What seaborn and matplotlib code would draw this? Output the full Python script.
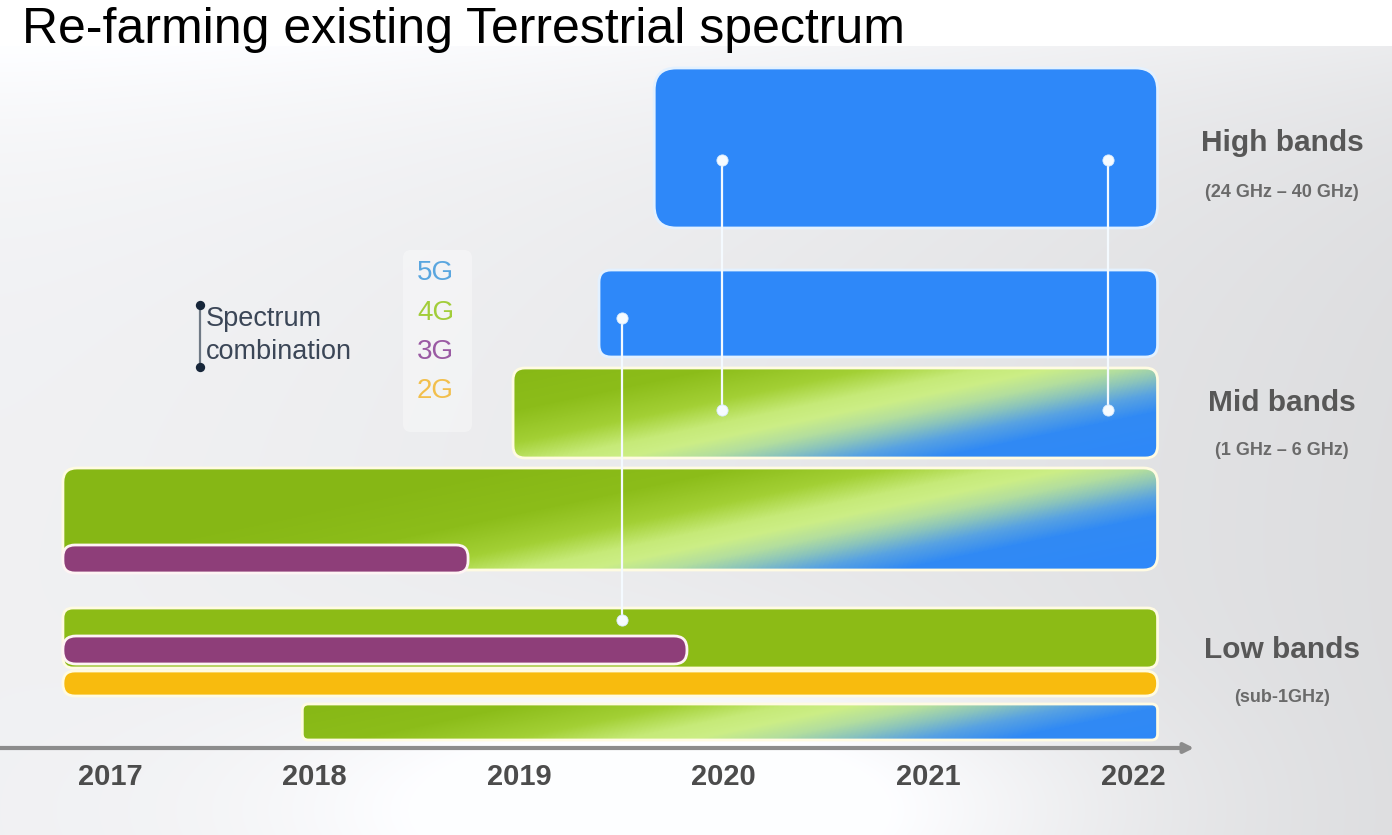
import numpy as np
import matplotlib
matplotlib.use("Agg")
import matplotlib.pyplot as plt
import seaborn as sns
from matplotlib.patches import FancyBboxPatch
from matplotlib.colors import LinearSegmentedColormap

# ---------------- data ----------------
years = [2017, 2018, 2019, 2020, 2021, 2022]
band_names = ["High bands", "Mid bands", "Low bands"]
band_ranges = ["(24 GHz – 40 GHz)", "(1 GHz – 6 GHz)", "(sub-1GHz)"]
legend_gens = ["5G", "4G", "3G", "2G"]

# one entry per spectrum bar: band, technology, start and end of use (years)
bar_band = ["High", "Mid", "Mid", "Mid", "Mid", "Low", "Low", "Low", "Low"]
bar_tech = ["5G", "5G", "4G-5G", "4G-5G", "3G", "4G", "3G", "2G", "4G-5G"]
bar_start = [2019.66, 2019.39, 2018.97, 2016.77, 2016.77, 2016.77, 2016.77, 2016.77, 2017.94]
bar_end = [2022.12, 2022.12, 2022.12, 2022.12, 2018.75, 2022.12, 2019.82, 2022.12, 2022.12]

# spectrum combinations (vertical links) and the year at which they appear
link_year = [2019.50, 2019.99, 2021.88]

# ---------------- layout (pixel rows of the drawing area) ----------------
W, H = 1392, 835
AXIS_ROW = 748                       # timeline row
PX_PER_YEAR = 204.6
X0_YEAR = 2017 - 110 / PX_PER_YEAR   # year at the left figure edge

lane_top = [68, 270, 368, 468, 545, 608, 636, 671, 704]
lane_height = [160, 87, 90, 102, 28, 60, 28, 25, 36]
lane_radius = [22, 12, 12, 14, 12, 10, 13, 12, 6]
link_rows = [(318, 620), (160, 410), (160, 410)]
band_label_rows = [(143, 192), (403, 450), (650, 698)]

# ---------------- styles ----------------
tech_color = {"5G": "#2e88f9", "4G": "#8cbb16", "3G": "#8e3e79", "2G": "#f8bb0e"}
edge_color = {"5G": "#e3f1ff", "4G": "#fffbe2", "3G": "#fff4f4", "2G": "#fffbe2",
              "4G-5G": "#fffbe2"}
gen_colors = ["#5aa6df", "#a2cd3a", "#9a5aa3", "#f2bf4c"]
# centre of the light diagonal streak for gradient bars (pixel column at mid height)
streak_center = {2: 815, 3: 805, 8: 752}
streak_slope = 4.8

grad_cmap = LinearSegmentedColormap.from_list(
    "refarm",
    [(0.00, "#86b715"), (0.22, "#8cbd1a"), (0.36, "#a3d035"), (0.46, "#c6ea78"),
     (0.52, "#ccee86"), (0.59, "#b3de9e"), (0.65, "#8cc5bb"), (0.72, "#58a2e2"),
     (0.80, "#318af4"), (1.00, "#2e88f9")])

sns.set_theme(style="white")
plt.rcParams["font.family"] = ["Liberation Sans", "DejaVu Sans"]

fig = plt.figure(figsize=(W / 100, H / 100), dpi=100)

# ---------------- soft grey backdrop ----------------
bg = fig.add_axes([0, 0, 1, 1], zorder=-5)
yy, xx = np.mgrid[0:H, 0:W].astype(float)
val = 0.945 - 0.075 * (xx / W) ** 1.4
val += 0.12 * np.exp(-((xx - 700) / 380) ** 2 - ((yy - 810) / 130) ** 2)
val += 0.055 * np.exp(-(yy - 50) / 110)
val = np.clip(val, 0, 1)
rgb = np.dstack([val - 0.004, val - 0.002, val + 0.006]).clip(0, 1)
rgb[:46] = 1.0
bg.imshow(rgb, aspect="auto", interpolation="bilinear")
bg.set_axis_off()

# ---------------- main drawing area ----------------
ax = fig.add_axes([0, (H - AXIS_ROW) / H, 1, AXIS_ROW / H])
ax.patch.set_alpha(0)
xlim = (X0_YEAR, X0_YEAR + W / PX_PER_YEAR)


def yr_to_px(v):
    return (v - X0_YEAR) * PX_PER_YEAR


for i, (tech, x0, x1) in enumerate(zip(bar_tech, bar_start, bar_end)):
    top, h, r = lane_top[i], lane_height[i], lane_radius[i]
    z = 2 + i * 0.1
    face = "none" if tech == "4G-5G" else tech_color[tech]
    patch = FancyBboxPatch((x0, top), x1 - x0, h,
                           boxstyle=f"round,pad=0,rounding_size={r / PX_PER_YEAR}",
                           mutation_aspect=PX_PER_YEAR,
                           facecolor=face, edgecolor=edge_color[tech],
                           linewidth=2.0, zorder=z + 0.05)
    ax.add_patch(patch)
    if tech == "4G-5G":
        left_px, right_px = yr_to_px(x0), yr_to_px(x1)
        xp = np.arange(int(left_px), int(right_px)) + 0.5
        yp = np.arange(top, top + h) + 0.5
        d = xp[None, :] + streak_slope * (yp[:, None] - (top + h / 2)) - streak_center[i]
        img = grad_cmap(np.clip((d + 560) / 1120, 0, 1))[..., :3]
        im = ax.imshow(img, extent=(x0, x1, top + h, top), aspect="auto",
                       interpolation="bilinear", zorder=z)
        im.set_clip_path(patch)

# spectrum-combination links
for yr, (ya, yb) in zip(link_year, link_rows):
    ax.plot([yr, yr], [ya, yb], color="#f4faff", lw=1.6, zorder=5,
            solid_capstyle="butt")
link_x = [yr for yr in link_year for _ in range(2)]
link_y = [r for rows in link_rows for r in rows]
sns.scatterplot(x=link_x, y=link_y, ax=ax, s=65, color="#f6fbff",
                edgecolor="#d7ebff", linewidth=0.6, zorder=6, legend=False)

# legend: spectrum combination marker
leg_x = X0_YEAR + 200 / PX_PER_YEAR
ax.plot([leg_x, leg_x], [305, 367], color="#707a86", lw=1.6, zorder=5)
sns.scatterplot(x=[leg_x, leg_x], y=[305, 367], ax=ax, s=45, color="#17263a",
                linewidth=0, zorder=6, legend=False)
ax.text(leg_x + 6 / PX_PER_YEAR, 319, "Spectrum", fontsize=19.5, color="#3b4657",
        va="center", ha="left")
ax.text(leg_x + 6 / PX_PER_YEAR, 352, "combination", fontsize=19.5, color="#3b4657",
        va="center", ha="left")

# legend: generations
box_x0 = X0_YEAR + 403 / PX_PER_YEAR
ax.add_patch(FancyBboxPatch((box_x0, 250), 69 / PX_PER_YEAR, 182,
                            boxstyle=f"round,pad=0,rounding_size={8 / PX_PER_YEAR}",
                            mutation_aspect=PX_PER_YEAR, facecolor="white",
                            alpha=0.35, edgecolor="none", zorder=1))
for gen, col, row in zip(legend_gens, gen_colors, [273, 313, 352, 391]):
    ax.text(X0_YEAR + 417 / PX_PER_YEAR, row, gen, fontsize=20, color=col,
            va="center", ha="left")

# band labels on the right
lab_x = X0_YEAR + 1282 / PX_PER_YEAR
for name, rng, (r1, r2) in zip(band_names, band_ranges, band_label_rows):
    ax.text(lab_x, r1, name, fontsize=21.5, fontweight="bold", color="#575757",
            ha="center", va="center")
    ax.text(lab_x, r2, rng, fontsize=13, fontweight="bold", color="#6a6a6a",
            ha="center", va="center")

# timeline
ax.annotate("", xy=(X0_YEAR + 1194 / PX_PER_YEAR, AXIS_ROW),
            xytext=(xlim[0], AXIS_ROW),
            arrowprops=dict(arrowstyle="-|>", color="#8c8c8c", lw=3,
                            mutation_scale=14, shrinkA=0, shrinkB=0),
            annotation_clip=False, zorder=4)

ax.set_xlim(*xlim)
ax.set_ylim(AXIS_ROW, 0)
ax.set_xticks(years)
ax.set_xticklabels([str(y) for y in years], fontsize=21, fontweight="bold",
                   color="#4c4c4c")
ax.tick_params(axis="x", length=0, pad=11)
ax.set_yticks([])
ax.set_xlabel("")
ax.set_ylabel("")
sns.despine(ax=ax, left=True, bottom=True)
ax.grid(False)

fig.text(22 / W, 1 - 30 / H, "Re-farming existing Terrestrial spectrum",
         fontsize=36, color="black", ha="left", va="center")

fig.savefig("out.png", dpi=100)
